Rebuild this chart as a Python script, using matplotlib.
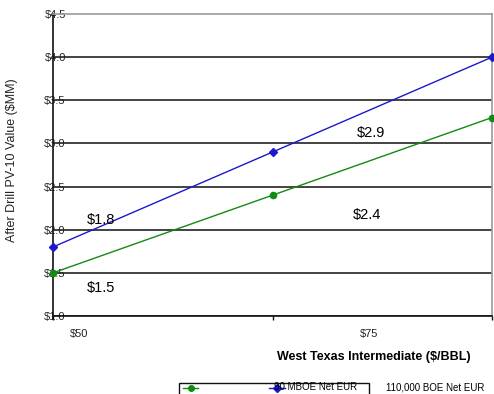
import matplotlib
matplotlib.use("Agg")
import matplotlib.pyplot as plt
from matplotlib.lines import Line2D
from matplotlib.patches import Rectangle

plt.rcParams['font.family'] = ['Liberation Sans', 'DejaVu Sans']

# WTI price cases (category axis) and PV-10 values in $MM
categories = ["$50", "$75", "$100"]
x_tick_labels = ["$50", "$75"]
series_high = [1.8, 2.9, 4.0]   # blue series
series_low = [1.5, 2.4, 3.3]    # green series
series_names = ["90 MBOE Net EUR", "110,000 BOE Net EUR"]
y_ticks = [1.0, 1.5, 2.0, 2.5, 3.0, 3.5, 4.0, 4.5]
y_tick_labels = ["$1.0", "$1.5", "$2.0", "$2.5", "$3.0", "$3.5", "$4.0", "$4.5"]
annot_high = ["$1.8", "$2.9"]
annot_low = ["$1.5", "$2.4"]

W, H = 494, 394
fig = plt.figure(figsize=(W / 100, H / 100), dpi=100)
ax = fig.add_axes([53 / W, 78 / H, 439 / W, 302 / H])

x = list(range(len(categories)))
blue = "#1a1acc"
green = "#138a13"

ax.set_xlim(0, len(categories) - 1)
ax.set_ylim(1.0, 4.5)

# horizontal gridlines
for v in y_ticks[:-1]:
    ax.axhline(v, color="#222222", lw=1.2, zorder=1)

ax.plot(x, series_high, color=blue, lw=1.0, marker="D", ms=4.5, zorder=3, clip_on=False)
ax.plot(x, series_low, color=green, lw=1.0, marker="o", ms=4.5, zorder=3, clip_on=False)

# spines
ax.spines['left'].set_color("#111111")
ax.spines['left'].set_linewidth(1.2)
ax.spines['bottom'].set_color("#111111")
ax.spines['bottom'].set_linewidth(1.2)
ax.spines['top'].set_color("#999999")
ax.spines['top'].set_linewidth(1.2)
ax.spines['right'].set_color("#999999")
ax.spines['right'].set_linewidth(1.2)

# y tick labels sit over the axis line
ax.set_yticks(y_ticks)
ax.set_yticklabels(y_tick_labels, fontsize=8, color="#222222")
ax.tick_params(axis='y', length=0, pad=-1.5)
for lbl in ax.get_yticklabels():
    lbl.set_horizontalalignment('center')

# x axis: tick marks at categories, labels offset
ax.set_xticks(x)
ax.set_xticklabels([])
ax.tick_params(axis='x', direction='out', length=3, width=1, color="#111111")
for pos, lab in zip([0.118, 1.44], x_tick_labels):
    ax.text(pos, -0.042, lab, transform=ax.get_xaxis_transform(), ha='center', va='top',
            fontsize=8, color="#222222")

ax.text(0.73, -0.115, "West Texas Intermediate ($/BBL)", transform=ax.transAxes,
        ha='center', va='top', fontsize=9, fontweight='bold')
fig.text(12 / W, 1 - 160 / H, "After Drill PV-10 Value ($MM)", rotation=90,
         ha='center', va='center', fontsize=9, color="#222222")

# value annotations
ax.annotate(annot_high[0], (x[0], series_high[0]), xytext=(34.6, 19.4),
            textcoords='offset points', ha='center', va='center', fontsize=10.5)
ax.annotate(annot_low[0], (x[0], series_low[0]), xytext=(34.6, -10.8),
            textcoords='offset points', ha='center', va='center', fontsize=10.5)
ax.annotate(annot_high[1], (x[1], series_high[1]), xytext=(71, 13.7),
            textcoords='offset points', ha='center', va='center', fontsize=10.5)
ax.annotate(annot_low[1], (x[1], series_low[1]), xytext=(67.7, -14.4),
            textcoords='offset points', ha='center', va='center', fontsize=10.5)

# legend
fig.patches.append(Rectangle((179 / W, -0.01), 190 / W, 0.01 + 1 - 383 / H,
                             transform=fig.transFigure, fill=False, ec="#111111", lw=1.0))
ly = 1 - 387.5 / H
fig.lines.append(Line2D([183 / W, 198 / W], [ly, ly], transform=fig.transFigure,
                        color=green, lw=1.0))
fig.lines.append(Line2D([190.5 / W], [ly], transform=fig.transFigure, color=green,
                        marker="o", ms=4))
fig.text(274 / W, ly, series_names[0], ha='left', va='center', fontsize=7)
fig.lines.append(Line2D([269 / W, 285 / W], [ly, ly], transform=fig.transFigure,
                        color=blue, lw=1.0))
fig.lines.append(Line2D([277 / W], [ly], transform=fig.transFigure, color=blue,
                        marker="D", ms=4))
fig.text(386 / W, ly, series_names[1], ha='left', va='center', fontsize=7)

fig.savefig("out.png", dpi=100)
